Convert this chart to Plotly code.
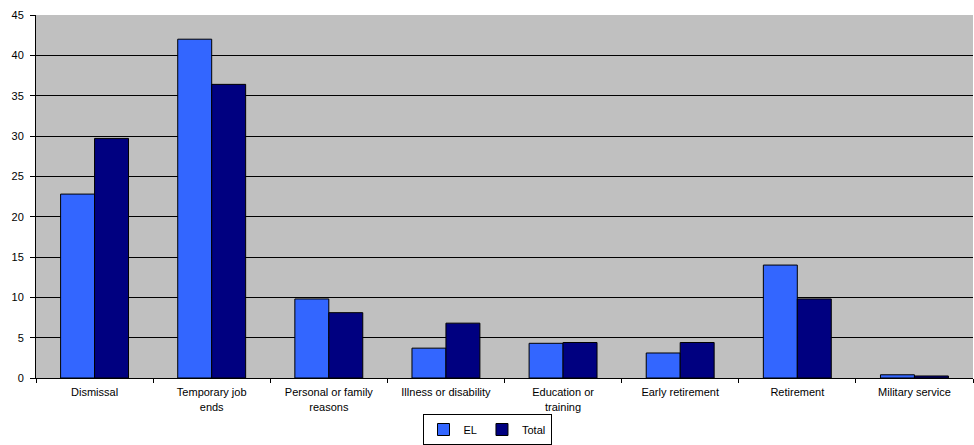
import plotly.graph_objects as go

categories = ["Dismissal", "Temporary job<br>ends", "Personal or family<br>reasons",
              "Illness or disability", "Education or<br>training", "Early retirement",
              "Retirement", "Military service"]
el_values = [22.8, 42.0, 9.8, 3.7, 4.3, 3.1, 14.0, 0.4]
total_values = [29.7, 36.4, 8.1, 6.8, 4.4, 4.4, 9.8, 0.25]
y_ticks = [0, 5, 10, 15, 20, 25, 30, 35, 40, 45]

fig = go.Figure()
fig.add_trace(go.Bar(name="EL", x=categories, y=el_values,
                     marker=dict(color="#3366FF", line=dict(color="#000000", width=1))))
fig.add_trace(go.Bar(name="Total", x=categories, y=total_values,
                     marker=dict(color="#000080", line=dict(color="#000000", width=1))))

fig.update_layout(
    width=974, height=445,
    margin=dict(l=36, r=1, t=15, b=67, autoexpand=False),
    paper_bgcolor="white",
    plot_bgcolor="#C0C0C0",
    barmode="group",
    bargap=0.42,
    bargroupgap=0,
    font=dict(family="Liberation Sans, Arial, sans-serif", size=11, color="#000000"),
    showlegend=True,
    legend=dict(orientation="h", x=0.5, xanchor="center", xref="container",
                y=-0.008, yanchor="bottom", yref="container",
                bordercolor="#000000", borderwidth=1, bgcolor="white",
                font=dict(size=11), itemwidth=30, tracegroupgap=0),
    xaxis=dict(type="category", tickson="boundaries", ticks="outside", ticklen=4,
               tickcolor="#000000", showline=True, linecolor="#000000", linewidth=1,
               showgrid=False, tickangle=0, tickfont=dict(size=11), automargin=False,
               ticklabelstandoff=4),
    yaxis=dict(range=[0, 45], tickvals=y_ticks, ticks="outside", ticklen=5,
               tickcolor="#000000", showline=True, linecolor="#000000", linewidth=1,
               showgrid=True, gridcolor="#000000", gridwidth=1, zeroline=False,
               tickfont=dict(size=11), automargin=False, ticklabelstandoff=4),
)

fig.write_html("out.html", config={"displayModeBar": False},
               post_script="document.body.style.margin='0';document.body.style.overflow='hidden';")
